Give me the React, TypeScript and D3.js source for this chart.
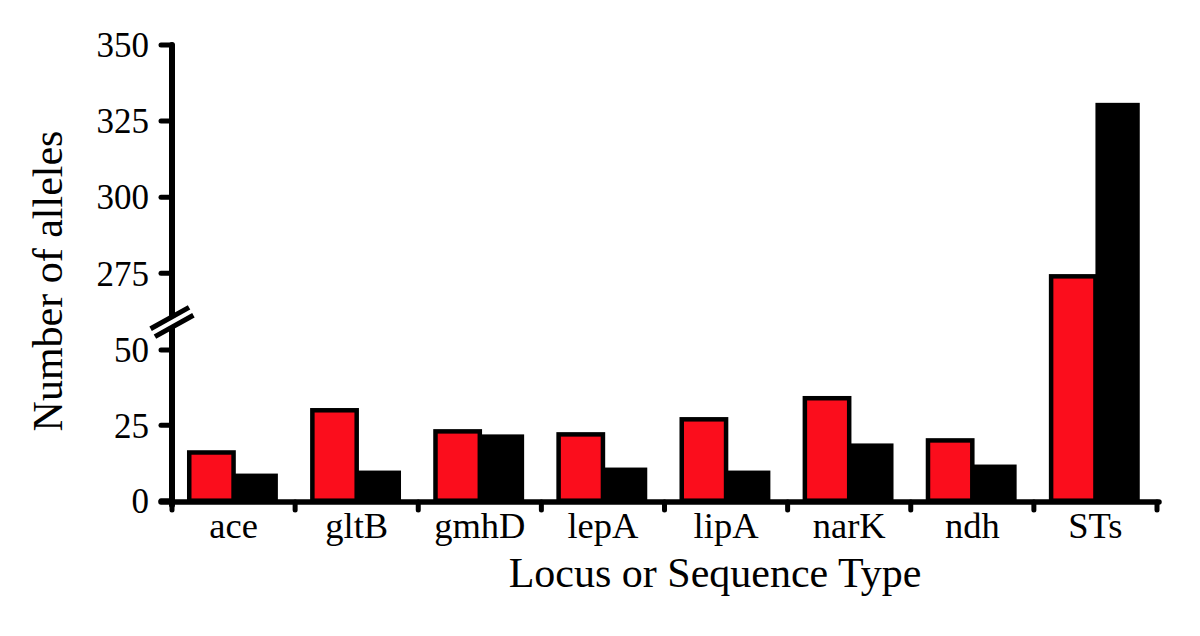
import React, { useEffect, useRef } from "react";
import * as d3 from "d3";

// --- Data ---
const categories = ["ace", "gltB", "gmhD", "lepA", "lipA", "narK", "ndh", "STs"];
const redValues = [16, 30, 23, 22, 27, 34, 20, 274];
const blackValues = [9, 10, 22, 11, 10, 19, 12, 331];
const lowerTicks = [0, 25, 50];
const upperTicks = [275, 300, 325, 350];

const App = () => {
  const svgRef = useRef<SVGSVGElement | null>(null);

  useEffect(() => {
    const width = 1200;
    const height = 636;
    const font = "'Liberation Serif', 'Times New Roman', serif";

    const svg = d3.select(svgRef.current);
    svg.selectAll("*").remove();
    svg.attr("width", width).attr("height", height);

    const axisX = 172;
    const axisY = 502;

    // broken y scale: 0-50 below the break, 250-350 above it
    const y = d3
      .scaleLinear()
      .domain([0, 50, 250, 350])
      .range([500.7, 350, 349.4, 45]);

    const x0 = d3
      .scaleBand()
      .domain(categories)
      .range([axisX, 1157])
      .padding(0);

    const step = x0.step();
    const x1 = d3
      .scaleBand()
      .domain(["red", "black"])
      .range([step * 0.14, step * 0.86])
      .padding(0);

    const rows = categories.map((c, i) => ({
      cat: c,
      red: redValues[i],
      black: blackValues[i],
    }));

    const g = svg.append("g");

    // black bars (no outline)
    g.selectAll(".bb")
      .data(rows)
      .join("rect")
      .attr("class", "bb")
      .attr("x", (d) => (x0(d.cat) as number) + (x1("black") as number))
      .attr("y", (d) => y(d.black))
      .attr("width", x1.bandwidth())
      .attr("height", (d) => y(0) - y(d.black))
      .attr("fill", "#000");

    // red bars with black outline
    g.selectAll(".rb")
      .data(rows)
      .join("rect")
      .attr("class", "rb")
      .attr("x", (d) => (x0(d.cat) as number) + (x1("red") as number))
      .attr("y", (d) => y(d.red))
      .attr("width", x1.bandwidth())
      .attr("height", (d) => y(0) - y(d.red))
      .attr("fill", "#fb0d1c")
      .attr("stroke", "#000")
      .attr("stroke-width", 4.5);

    // y axis line
    g.append("line")
      .attr("x1", axisX)
      .attr("x2", axisX)
      .attr("y1", y(350))
      .attr("y2", axisY + 3)
      .attr("stroke", "#000")
      .attr("stroke-width", 6)
      .attr("stroke-linecap", "round");

    // y ticks + labels
    const allTicks = [...lowerTicks, ...upperTicks];
    allTicks.forEach((t) => {
      g.append("line")
        .attr("x1", 161)
        .attr("x2", axisX)
        .attr("y1", y(t))
        .attr("y2", y(t))
        .attr("stroke", "#000")
        .attr("stroke-width", 5)
        .attr("stroke-linecap", "round");
      g.append("text")
        .attr("x", 149)
        .attr("y", y(t))
        .attr("dy", "0.35em")
        .attr("text-anchor", "end")
        .style("font-family", font)
        .style("font-size", "35px")
        .text(t);
    });

    // x axis line
    g.append("line")
      .attr("x1", 161)
      .attr("x2", 1159)
      .attr("y1", axisY)
      .attr("y2", axisY)
      .attr("stroke", "#000")
      .attr("stroke-width", 5.5)
      .attr("stroke-linecap", "round");

    // x ticks at band boundaries
    const boundaries = [...categories.map((c) => x0(c) as number), x0.range()[1]];
    boundaries.forEach((bx) => {
      g.append("line")
        .attr("x1", bx)
        .attr("x2", bx)
        .attr("y1", axisY)
        .attr("y2", axisY + 8)
        .attr("stroke", "#000")
        .attr("stroke-width", 5)
        .attr("stroke-linecap", "round");
    });

    // category labels
    categories.forEach((c) => {
      g.append("text")
        .attr("x", (x0(c) as number) + step / 2)
        .attr("y", 538)
        .attr("text-anchor", "middle")
        .style("font-family", font)
        .style("font-size", "36.5px")
        .text(c);
    });

    // axis break marks
    const cx = axisX;
    const cy = 322;
    const dir = [0.874, -0.485];
    const perp = [0.485, 0.874];
    const half = 22;
    g.append("line")
      .attr("x1", cx - 7 * dir[0])
      .attr("y1", cy - 7 * dir[1])
      .attr("x2", cx + 7 * dir[0])
      .attr("y2", cy + 7 * dir[1])
      .attr("stroke", "#fff")
      .attr("stroke-width", 6);
    [-4.5, 4.5].forEach((off) => {
      const mx = cx + off * perp[0];
      const my = cy + off * perp[1];
      g.append("line")
        .attr("x1", mx - half * dir[0])
        .attr("y1", my - half * dir[1])
        .attr("x2", mx + half * dir[0])
        .attr("y2", my + half * dir[1])
        .attr("stroke", "#000")
        .attr("stroke-width", 5);
    });

    // axis titles
    g.append("text")
      .attr("x", 715)
      .attr("y", 587)
      .attr("text-anchor", "middle")
      .style("font-family", font)
      .style("font-size", "42px")
      .text("Locus or Sequence Type");

    g.append("text")
      .attr("transform", `translate(62, 281) rotate(-90)`)
      .attr("text-anchor", "middle")
      .style("font-family", font)
      .style("font-size", "42px")
      .text("Number of alleles");
  }, []);

  return (
    <div style={{ position: "absolute", left: 0, top: 0, background: "#fff" }}>
      <svg ref={svgRef} style={{ display: "block" }}></svg>
    </div>
  );
};

export default App;
